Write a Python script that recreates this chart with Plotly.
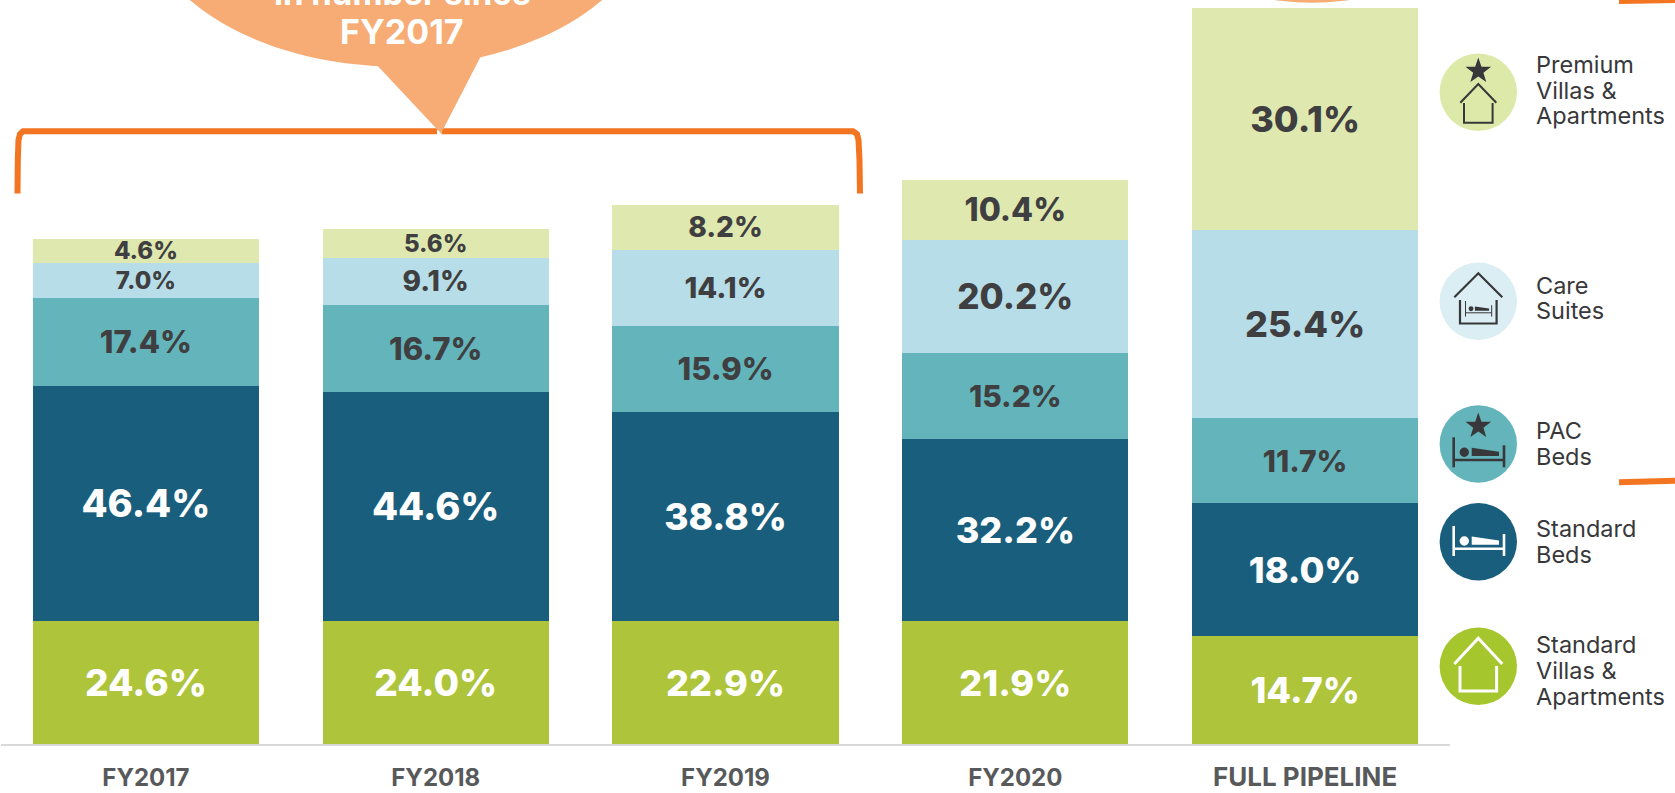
import math
import plotly.graph_objects as go

categories = ["FY2017", "FY2018", "FY2019", "FY2020", "FULL PIPELINE"]

# Stacked bar heights (full pipeline = 100)
standard_villas = [16.75, 16.71, 16.71, 16.71, 14.67]
standard_beds = [31.93, 31.16, 28.44, 24.69, 18.03]
pac_beds = [11.96, 11.78, 11.68, 11.68, 11.59]
care_suites = [4.76, 6.43, 10.33, 15.45, 25.58]
premium_villas = [3.18, 3.90, 6.07, 8.08, 30.12]

# Printed labels
standard_villas_labels = ["24.6%", "24.0%", "22.9%", "21.9%", "14.7%"]
standard_beds_labels = ["46.4%", "44.6%", "38.8%", "32.2%", "18.0%"]
pac_beds_labels = ["17.4%", "16.7%", "15.9%", "15.2%", "11.7%"]
care_suites_labels = ["7.0%", "9.1%", "14.1%", "20.2%", "25.4%"]
premium_villas_labels = ["4.6%", "5.6%", "8.2%", "10.4%", "30.1%"]

callout_lines = ["in number since", "FY2017"]
legend_names = [
    ["Premium", "Villas &", "Apartments"],
    ["Care", "Suites"],
    ["PAC", "Beds"],
    ["Standard", "Beds"],
    ["Standard", "Villas &", "Apartments"],
]

# ---- styling ----
W, H = 1675, 793
ML, MR, MT, MB = 1, 225, 0, 49
FONT = "Inter"
DARK = "#3f3f41"
WHITE = "#ffffff"
ORANGE = "#f37421"
BUBBLE = "#f7ac75"
INK = "#38383a"


def px(x):
    return (x - ML) / (W - ML - MR)


def py(y):
    return 1 - (y - MT) / (H - MT - MB)


def pth(points, close=False):
    s = "M " + " L ".join(f"{px(x):.5f},{py(y):.5f}" for x, y in points)
    return s + (" Z" if close else "")


series = [
    ("Standard Villas & Apartments", standard_villas, standard_villas_labels, "#aec43b", WHITE, [37, 37, 36, 36, 36]),
    ("Standard Beds", standard_beds, standard_beds_labels, "#1a5e7d", WHITE, [38, 38, 37, 36, 36]),
    ("PAC Beds", pac_beds, pac_beds_labels, "#63b5bb", DARK, [31, 31, 31, 30, 30]),
    ("Care Suites", care_suites, care_suites_labels, "#b7dde8", DARK, [24, 28, 29, 35, 36]),
    ("Premium Villas & Apartments", premium_villas, premium_villas_labels, "#dfe8af", DARK, [24, 24, 28, 32, 36]),
]

fig = go.Figure()
for name, vals, labels, color, tcolor, sizes in series:
    fig.add_trace(go.Bar(
        name=name, x=categories, y=vals, text=labels,
        marker=dict(color=color, line=dict(width=0)),
        textposition="inside", insidetextanchor="middle",
        constraintext="none", textangle=0,
        textfont=dict(family=FONT, color=tcolor, size=sizes, weight=800),
        hoverinfo="skip",
    ))

shapes = []
annotations = []


def add_poly(points, fill=None, line=None, width=0, close=True):
    shapes.append(dict(
        type="path", xref="paper", yref="paper", layer="above",
        path=pth(points, close),
        fillcolor=fill if fill else "rgba(0,0,0,0)",
        line=dict(color=line if line else "rgba(0,0,0,0)", width=width),
    ))


def add_ellipse(cx, cy, rx, ry, fill):
    shapes.append(dict(
        type="circle", xref="paper", yref="paper", layer="above",
        x0=px(cx - rx), x1=px(cx + rx), y0=py(cy + ry), y1=py(cy - ry),
        fillcolor=fill, line=dict(width=0),
    ))


def star(cx, cy, R, color):
    pts = []
    for i in range(10):
        r = R if i % 2 == 0 else R * 0.40
        a = -math.pi / 2 + i * math.pi / 5
        pts.append((cx + r * math.cos(a), cy + r * math.sin(a)))
    add_poly(pts, fill=color)


def bed(cx, top, s, color, lw):
    """Bed glyph: top = top of head post, s = scale (1 for large)."""
    x0, x1 = cx - 24.6 * s, cx + 25.7 * s
    add_poly([(x0, top), (x0, top + 30 * s)], line=color, width=lw, close=False)
    add_poly([(x1, top + 8 * s), (x1, top + 30 * s)], line=color, width=lw, close=False)
    add_poly([(x0, top + 22.7 * s), (x1, top + 22.7 * s)], line=color, width=lw, close=False)
    add_ellipse(cx - 14 * s, top + 15 * s, 4.7 * s, 4.7 * s, color)
    add_poly([(cx - 6.6 * s, top + 10.4 * s), (cx + 20.7 * s, top + 14.4 * s),
              (cx + 20.7 * s, top + 18.7 * s), (cx - 6.6 * s, top + 18.7 * s)], fill=color)


def house(cx, peak, eave, half, wall_half, wall_top, wall_bot, color, lw):
    add_poly([(cx - half, eave), (cx, peak), (cx + half, eave)], line=color, width=lw, close=False)
    add_poly([(cx - wall_half, wall_top), (cx - wall_half, wall_bot),
              (cx + wall_half, wall_bot), (cx + wall_half, wall_top)], line=color, width=lw, close=False)


# ---- callout bubbles and bracket ----
add_poly([(17.5, 193.5), (17.8, 160), (18.5, 140), (20, 134), (23, 131.3), (437, 131.3)], line=ORANGE, width=6, close=False)
add_poly([(441.5, 131.3), (853, 131.3), (857, 134), (858.5, 140), (859.5, 160), (860, 193.5)], line=ORANGE, width=6, close=False)
add_ellipse(396, -103.5, 260, 170, BUBBLE)
add_poly([(374, 62), (441, 133.5), (483, 52)], fill=BUBBLE)
add_ellipse(1312, -93.3, 160, 96, BUBBLE)

# orange strokes at the right edge
add_poly([(1619, 1.5), (1675, 0.5)], line=ORANGE, width=5, close=False)
add_poly([(1619, 482.3), (1675, 480.8)], line=ORANGE, width=6, close=False)

for text, yc, size in [(callout_lines[0], -6.5, 33), (callout_lines[1], 32, 34)]:
    annotations.append(dict(
        text=text, xref="paper", yref="paper", x=px(402), y=py(yc), xanchor="center", yanchor="middle",
        showarrow=False, font=dict(family=FONT, size=size, color=WHITE, weight=700),
    ))

# ---- legend icons ----
ICX = 1478.3
IR = 38.7
add_ellipse(ICX, 92.3, IR, IR, "#dde9a8")
star(ICX, 71, 13.5, INK)
house(ICX, 84, 102.7, 18, 14.3, 103, 122.7, INK, 2)

add_ellipse(ICX, 301.3, IR, IR, "#daeef3")
house(ICX, 273.3, 297.3, 24, 18.3, 300, 323.5, INK, 2.2)
bed(ICX, 301, 0.52, INK, 1)

add_ellipse(ICX, 444, IR, IR, "#63b5bb")
star(ICX, 426, 13.5, INK)
bed(ICX, 437.3, 1, INK, 2.6)

add_ellipse(ICX, 541.7, IR, IR, "#1a5e7d")
bed(ICX, 526, 1, WHITE, 2.6)

add_ellipse(ICX, 666.3, IR, IR, "#a5c72d")
house(ICX, 638.3, 664, 24, 18.3, 666, 691, WHITE, 3)

# ---- legend text ----
legend_line_y = [[64.5, 90.2, 116], [285, 310.5], [430, 456], [528.5, 554.5], [644.5, 670.2, 696]]
for lines, ys in zip(legend_names, legend_line_y):
    for t, y in zip(lines, ys):
        annotations.append(dict(
            text=t, xref="paper", yref="paper", x=px(1534), y=py(y), xanchor="left", yanchor="middle",
            showarrow=False, font=dict(family=FONT, size=23.5, color=INK, weight=400),
        ))

tick_sizes = [24, 24, 24, 24, 26]
tick_text = [f"<span style='font-size:{s}px'>{c}</span>" for c, s in zip(categories, tick_sizes)]

fig.update_layout(
    width=W, height=H, barmode="stack", bargap=0.22, showlegend=False,
    margin=dict(l=ML, r=MR, t=MT, b=MB, pad=0),
    paper_bgcolor="white", plot_bgcolor="white",
    xaxis=dict(
        type="category", showline=True, linecolor="#d9d9d9", linewidth=2, showgrid=False, zeroline=False,
        ticks="", ticklabelstandoff=11, tickmode="array", tickvals=categories, ticktext=tick_text,
        tickfont=dict(family=FONT, size=24, color="#58595b", weight=700),
    ),
    yaxis=dict(range=[0, 744 / 7.36], visible=False, showgrid=False, zeroline=False),
    shapes=shapes, annotations=annotations,
    font=dict(family=FONT),
)

fig.write_html(
    "out.html", config=dict(displayModeBar=False),
    post_script="document.body.style.margin='0';document.body.style.overflow='hidden';",
)
